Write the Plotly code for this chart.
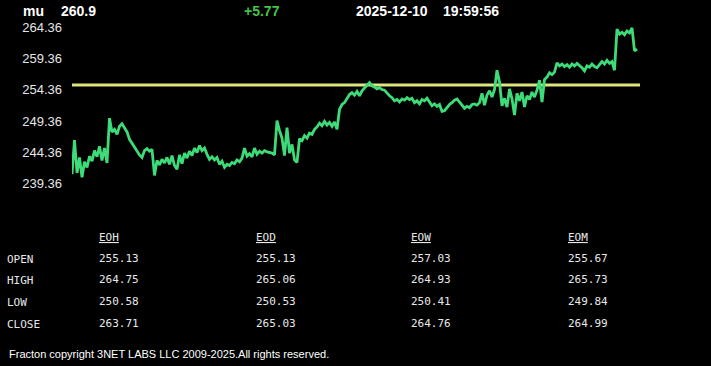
import plotly.graph_objects as go

W, H = 711, 366

# ---------------- data ----------------
symbol = "mu"
last_price = "260.9"
change = "+5.77"
date_str = "2025-12-10"
time_str = "19:59:56"
prev_close = 255.13

prices = [
    240.8, 246.3, 241.0, 243.5, 240.3, 242.8, 241.9, 243.7, 242.9, 244.6, 243.6, 245.3, 243.0, 245.0, 242.6,
    249.8,
    247.6, 248.0, 247.2, 248.5, 248.9, 248.3, 247.6, 246.4, 245.8, 245.0, 244.4, 243.9, 243.5,
    244.6, 244.9, 244.5, 244.8, 240.6, 243.0, 242.3, 243.2, 242.6, 243.5, 242.4, 243.8, 242.2, 241.6, 243.9,
    242.5, 244.2, 243.4, 244.5, 243.8, 245.0, 244.3, 245.4, 244.6, 245.0, 244.0, 243.2, 243.6, 243.1,
    243.5, 242.4, 242.9, 241.9, 242.4, 242.2, 242.7, 242.5, 243.1, 242.8, 243.4, 245.0, 243.7, 244.1, 243.6,
    245.0, 244.0, 244.5, 244.2, 244.6, 244.4, 244.3, 244.2, 243.9, 249.4,
    247.8, 246.6, 243.8, 248.3, 244.2, 245.6, 243.1, 242.7, 246.5, 246.2, 247.0, 246.6, 247.4, 247.2, 248.0,
    248.4, 249.0, 248.6, 249.3, 248.7, 249.1, 248.5, 249.2, 248.0, 251.2, 252.0, 252.3, 253.0, 253.6, 253.9,
    253.5, 254.1, 253.4,
    254.2, 254.7, 255.1, 255.5, 255.0, 254.8, 254.5, 254.7, 254.4, 254.3,
    253.8, 253.4, 253.1, 252.6, 252.8, 252.4, 252.9, 252.7, 253.1, 252.8,
    253.0, 252.3, 252.6, 252.1, 252.8, 252.6, 253.0, 252.4, 251.8, 252.1,
    251.7, 252.0, 250.9, 251.0, 251.6, 252.0, 252.3, 252.7, 252.9, 252.4,
    251.9, 251.4, 251.7, 251.5, 252.0, 252.1, 251.9, 252.3, 253.8, 251.9,
    253.5, 254.2, 253.2, 254.4, 257.5, 255.6, 251.8,
    253.0, 251.6, 254.5, 252.9, 250.3, 253.8, 252.6, 254.0, 251.6, 253.4,
    252.8, 254.0, 253.2, 254.3, 255.9, 252.4, 256.0, 256.4, 257.1, 256.8,
    257.2, 258.7, 258.2, 258.5, 258.1, 258.4, 258.0, 258.5, 258.2, 258.6,
    258.3, 257.9, 257.4, 258.2, 258.0, 258.5, 258.1, 257.9, 258.4, 258.9,
    258.5, 259.1, 258.6, 258.9, 257.5, 264.1, 263.3, 263.6, 263.2, 263.8,
    263.5, 264.3, 260.6,
    260.9,
]

y_ticks = [239.36, 244.36, 249.36, 254.36, 259.36, 264.36]
y_tick_labels = ["239.36", "244.36", "249.36", "254.36", "259.36", "264.36"]

table_cols = ["EOH", "EOD", "EOW", "EOM"]
table_rows = ["OPEN", "HIGH", "LOW", "CLOSE"]
eoh = ["255.13", "264.75", "250.58", "263.71"]
eod = ["255.13", "265.06", "250.53", "265.03"]
eow = ["257.03", "264.93", "250.41", "264.76"]
eom = ["255.67", "265.73", "249.84", "264.99"]
table_vals = [eoh, eod, eow, eom]

footer = "Fracton copyright 3NET LABS LLC 2009-2025.All rights reserved."

# ---------------- layout helpers ----------------
def px(x):
    return x / W

def py(y):
    return 1 - y / H

x_idx = list(range(len(prices)))
x_max = (len(prices) - 1) * (640 - 72) / (637 - 72)

fig = go.Figure()
fig.add_trace(go.Scatter(
    x=[0, x_max], y=[prev_close, prev_close], mode="lines",
    line=dict(color="#dbe67c", width=3), hoverinfo="skip", showlegend=False))
fig.add_trace(go.Scatter(
    x=x_idx, y=prices, mode="lines",
    line=dict(color="#3ddc78", width=2.8), hoverinfo="skip", showlegend=False))

# plot area pixels: top 20, bottom 190 ; value mapping 6.26 px per unit, 254.36 at y=89.3
ppu = 6.26
v_top = 254.36 + (89.3 - 20) / ppu
v_bot = 254.36 - (190 - 89.3) / ppu

fig.update_layout(
    width=W, height=H,
    margin=dict(l=0, r=0, t=0, b=0),
    paper_bgcolor="black", plot_bgcolor="black",
    showlegend=False,
    xaxis=dict(domain=[px(72), px(640)], range=[0, x_max], visible=False, fixedrange=True),
    yaxis=dict(domain=[py(190), py(20)], range=[v_bot, v_top],
               tickvals=y_ticks, ticktext=y_tick_labels,
               showgrid=False, zeroline=False, showline=False, ticks="",
               ticklabelstandoff=9,
               tickfont=dict(family="Liberation Sans, Arial", size=13, color="#e6e6e6")),
)

annos = []
def text(x, y, s, size=14, color="white", family="Liberation Sans, Arial", bold=False):
    annos.append(dict(
        x=px(x), y=py(y), xref="paper", yref="paper", xanchor="left", yanchor="middle",
        text=f"<b>{s}</b>" if bold else s, showarrow=False,
        borderpad=0, borderwidth=0,
        font=dict(family=family, size=size, color=color)))

text(23, 10, symbol, bold=True)
text(61, 10, last_price, bold=True)
text(244, 10, change, color="#45c24a", bold=True)
text(356, 10, date_str, bold=True)
text(443, 10, time_str, bold=True)

mono = "DejaVu Sans Mono, Liberation Mono, monospace"
col_x = [99, 256, 411, 568]
row_y = [259, 281, 302.5, 324.5]
for cx, name in zip(col_x, table_cols):
    text(cx, 238, f"<u>{name}</u>", size=11, color="#e8e8e8", family=mono)
for ry, name in zip(row_y, table_rows):
    text(7, ry + 0.5, name, size=11, color="#e8e8e8", family=mono)
for cx, vals in zip(col_x, table_vals):
    for ry, v in zip(row_y, vals):
        text(cx, ry - 0.5, v, size=11, color="#e8e8e8", family=mono)

text(9, 355, footer, size=11, color="white")

fig.update_layout(annotations=annos)
fig.write_html("out.html")
